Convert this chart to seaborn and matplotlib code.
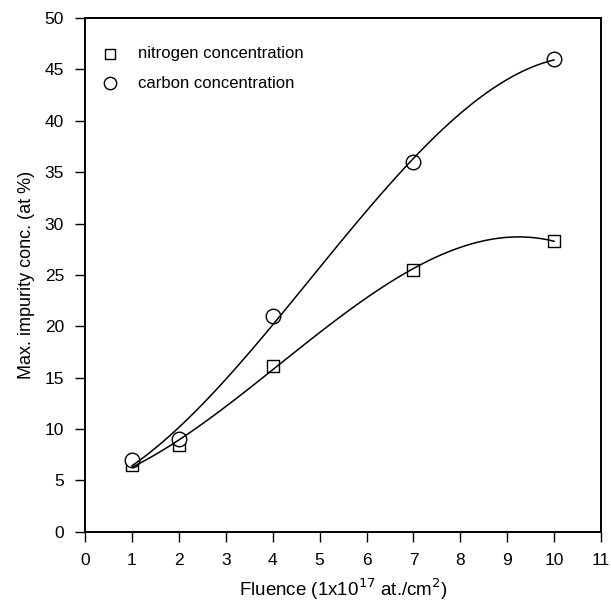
import numpy as np
import pandas as pd
import matplotlib
matplotlib.use("Agg")
import matplotlib.pyplot as plt
import seaborn as sns

fluence = [1, 2, 4, 7, 10]
nitrogen = [6.5, 8.5, 16.1, 25.5, 28.3]
carbon = [7.0, 9.0, 21.0, 36.0, 46.0]

sns.set_style("ticks")
plt.rcParams['font.family'] = ['Liberation Sans', 'DejaVu Sans']
plt.rcParams['text.color'] = 'black'
plt.rcParams['axes.labelcolor'] = 'black'

fig = plt.figure(figsize=(6.11, 6.01), dpi=100)
ax = fig.add_axes([0.139, 0.115, 0.845, 0.855])

df_n = pd.DataFrame({'x': fluence, 'y': nitrogen})
df_c = pd.DataFrame({'x': fluence, 'y': carbon})

sns.scatterplot(data=df_n, x='x', y='y', marker='s', s=80, facecolor='white',
                edgecolor='black', linewidth=1.0, zorder=3, ax=ax,
                label='nitrogen concentration')
sns.scatterplot(data=df_c, x='x', y='y', marker='o', s=110, facecolor='white',
                edgecolor='black', linewidth=1.0, zorder=4, ax=ax,
                label='carbon concentration')

# smooth fitted curves, drawn over the open markers
sns.regplot(data=df_n, x='x', y='y', order=3, ci=None, scatter=False,
            line_kws={'color': 'black', 'lw': 1.1, 'zorder': 5}, ax=ax)
sns.regplot(data=df_c, x='x', y='y', order=3, ci=None, scatter=False,
            line_kws={'color': 'black', 'lw': 1.1, 'zorder': 5}, ax=ax)

ax.set_xlim(0, 11)
ax.set_ylim(0, 50)
ax.set_xticks(range(0, 12))
ax.set_yticks(range(0, 51, 5))
ax.tick_params(direction='out', length=7, width=1.0, labelsize=12.5,
               colors='black', pad=8)
for sp in ax.spines.values():
    sp.set_visible(True)
    sp.set_linewidth(1.4)
    sp.set_color('black')

ax.set_xlabel('Fluence (1x10$^{17}$ at./cm$^{2}$)', fontsize=13.5, labelpad=6)
ax.set_ylabel('Max. impurity conc. (at %)', fontsize=13, labelpad=7)

ax.legend(loc='upper left', frameon=False, fontsize=12,
          bbox_to_anchor=(0.032, 0.945), borderpad=0, borderaxespad=0,
          handlelength=1.0, handletextpad=1.18, labelspacing=0.87,
          markerscale=0.85)

fig.savefig('out.png', dpi=100)
